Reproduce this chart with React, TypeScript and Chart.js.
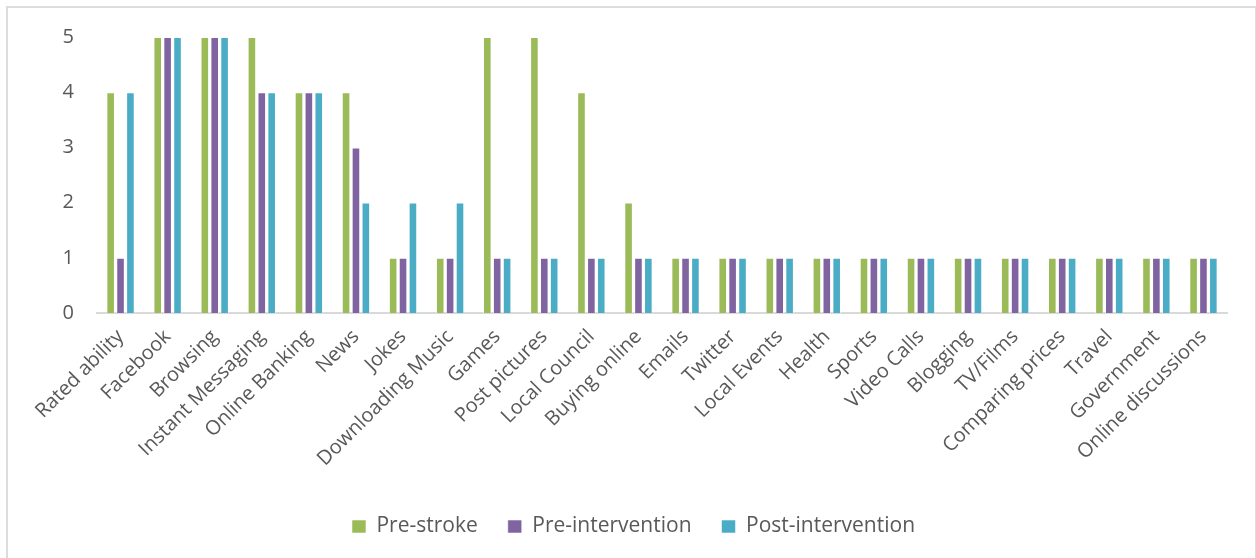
import React, { useEffect, useRef } from "react";
import { Chart, registerables } from "chart.js";

Chart.register(...registerables);

const categories = [
  "Rated ability", "Facebook", "Browsing", "Instant Messaging", "Online Banking",
  "News", "Jokes", "Downloading Music", "Games", "Post pictures", "Local Council",
  "Buying online", "Emails", "Twitter", "Local Events", "Health", "Sports",
  "Video Calls", "Blogging", "TV/Films", "Comparing prices", "Travel",
  "Government", "Online discussions",
];

const preStroke = [4, 5, 5, 5, 4, 4, 1, 1, 5, 5, 4, 2, 1, 1, 1, 1, 1, 1, 1, 1, 1, 1, 1, 1];
const preIntervention = [1, 5, 5, 4, 4, 3, 1, 1, 1, 1, 1, 1, 1, 1, 1, 1, 1, 1, 1, 1, 1, 1, 1, 1];
const postIntervention = [4, 5, 5, 4, 4, 2, 2, 2, 1, 1, 1, 1, 1, 1, 1, 1, 1, 1, 1, 1, 1, 1, 1, 1];

const yTicks = [0, 1, 2, 3, 4, 5];

const FONT = "'Open Sans', 'Noto Sans', sans-serif";
const TEXT = "#595959";

export default function App() {
  const canvasRef = useRef<HTMLCanvasElement | null>(null);

  useEffect(() => {
    if (!canvasRef.current) return;
    const chart = new Chart(canvasRef.current, {
      type: "bar",
      data: {
        labels: categories,
        datasets: [
          { label: "Pre-stroke", data: preStroke, backgroundColor: "#9BBB59" },
          { label: "Pre-intervention", data: preIntervention, backgroundColor: "#8064A2" },
          { label: "Post-intervention", data: postIntervention, backgroundColor: "#4BACC6" },
        ].map((d) => ({
          ...d,
          borderColor: "rgba(255,255,255,0.55)",
          borderWidth: 1,
          categoryPercentage: 0.63,
          barPercentage: 0.87,
        })),
      },
      options: {
        responsive: false,
        animation: false,
        devicePixelRatio: 1,
        layout: { padding: { left: 40, right: 29, top: 37, bottom: 11 } },
        plugins: {
          tooltip: { enabled: false },
          legend: {
            position: "bottom",
            labels: {
              boxWidth: 14,
              boxHeight: 13,
              padding: 30,
              color: TEXT,
              font: { family: FONT, size: 21 },
            },
          },
        },
        scales: {
          x: {
            grid: { display: false, drawTicks: false },
            border: { display: true, color: "#d9d9d9", width: 2 },
            ticks: {
              autoSkip: false,
              minRotation: 45,
              maxRotation: 45,
              padding: 12,
              color: TEXT,
              font: { family: FONT, size: 20 },
            },
            afterFit: (scale: any) => {
              scale.height = 173;
            },
          },
          y: {
            min: 0,
            max: 5,
            afterBuildTicks: (scale: any) => {
              scale.ticks = yTicks.map((v) => ({ value: v }));
            },
            grid: { display: false, drawTicks: false },
            border: { display: false },
            ticks: {
              padding: 23,
              color: TEXT,
              font: { family: FONT, size: 20 },
            },
            afterFit: (scale: any) => {
              scale.width = 57;
            },
          },
        },
      },
    });
    return () => chart.destroy();
  }, []);

  return (
    <div style={{ position: "fixed", left: 0, top: 0, width: 1256, height: 558, background: "#fff", overflow: "hidden" }}>
      <div
        style={{
          position: "absolute",
          left: 6,
          top: 6,
          width: 1247,
          height: 600,
          border: "2px solid #dcdcdc",
        }}
      />
      <canvas ref={canvasRef} width={1256} height={558} style={{ position: "absolute", left: 0, top: 0 }} />
    </div>
  );
}
